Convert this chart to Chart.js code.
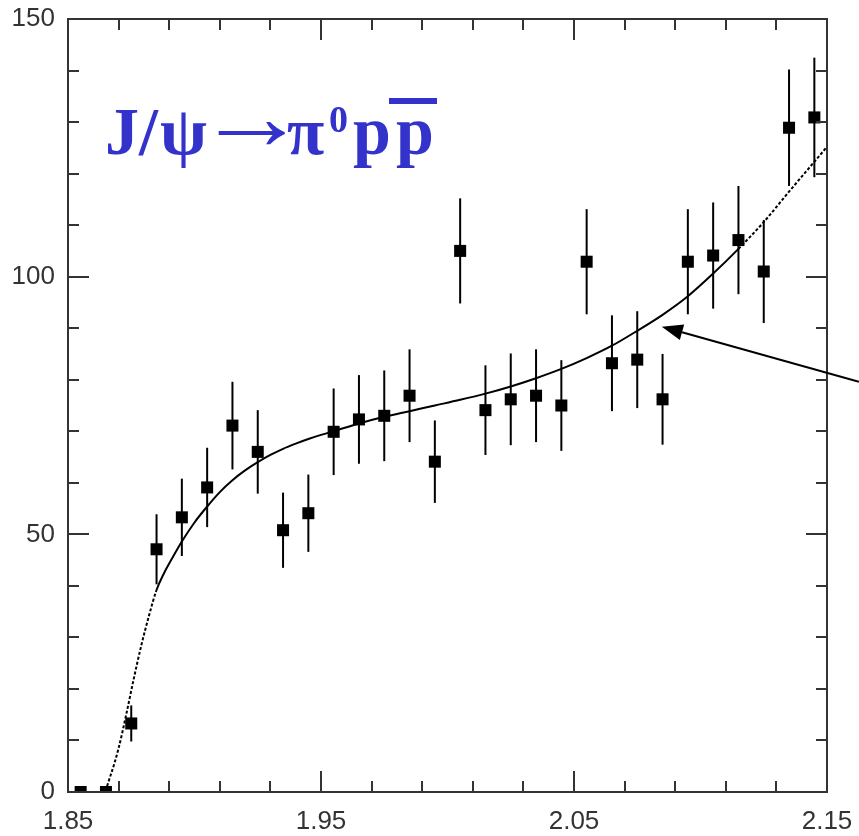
<!DOCTYPE html>
<html>
<head>
<meta charset="utf-8">
<script src="https://cdn.jsdelivr.net/npm/chart.js@4.4.1/dist/chart.umd.min.js"></script>
<style>
  html, body { margin: 0; padding: 0; background: #fff; }
  #wrap { width: 859px; height: 836px; }
</style>
</head>
<body>
<div id="wrap"><canvas id="massChart" width="859" height="836"></canvas></div>
<script>
// p pbar invariant mass bins (GeV) and event counts per bin
const massBins = [1.855, 1.865, 1.875, 1.885, 1.895, 1.905, 1.915, 1.925, 1.935, 1.945,
                  1.955, 1.965, 1.975, 1.985, 1.995, 2.005, 2.015, 2.025, 2.035, 2.045,
                  2.055, 2.065, 2.075, 2.085, 2.095, 2.105, 2.115, 2.125, 2.135, 2.145];
const eventCounts = [0, 0, 13.3, 47.1, 53.3, 59.1, 71.1, 66.0, 50.8, 54.1,
                     69.9, 72.3, 73.0, 76.9, 64.1, 105.0, 74.1, 76.2, 76.9, 75.0,
                     102.9, 83.2, 83.9, 76.2, 102.9, 104.1, 107.1, 101.0, 128.9, 130.9];
const countErrors = [0, 0, 3.5, 6.8, 7.5, 7.7, 8.5, 8.1, 7.3, 7.5,
                     8.4, 8.6, 8.8, 9.0, 8.0, 10.2, 8.7, 8.9, 9.0, 8.8,
                     10.2, 9.3, 9.4, 8.8, 10.2, 10.3, 10.5, 10.0, 11.3, 11.6];

// fitted curve, sampled along the mass axis
const fitMass = [1.855, 1.864, 1.867, 1.870, 1.873, 1.876, 1.879, 1.882, 1.885, 1.888,
                 1.891, 1.895, 1.900, 1.905, 1.910, 1.915, 1.920, 1.925, 1.930, 1.935,
                 1.940, 1.945, 1.950, 1.955, 1.965, 1.975, 1.985, 1.995, 2.005, 2.015,
                 2.025, 2.035, 2.045, 2.055, 2.065, 2.075, 2.085, 2.095, 2.105, 2.115,
                 2.125, 2.135, 2.145, 2.150];
const fitCounts = [0, 0, 3.5, 8.5, 15.0, 22.0, 28.5, 34.2, 39.2, 42.5,
                   45.2, 48.6, 52.3, 55.4, 58.2, 60.5, 62.4, 64.0, 65.4, 66.6,
                   67.6, 68.5, 69.3, 70.0, 71.5, 72.8, 73.9, 75.0, 76.1, 77.3,
                   78.7, 80.3, 82.1, 84.2, 86.6, 89.5, 92.6, 96.2, 100.6, 105.4,
                   110.6, 116.5, 122.3, 125.2];

const xMajorTicks = [1.85, 1.95, 2.05, 2.15];
const xMinorTicks = [1.87, 1.89, 1.91, 1.93, 1.97, 1.99, 2.01, 2.03, 2.07, 2.09, 2.11, 2.13];
const yMajorTicks = [0, 50, 100, 150];
const yMinorTicks = [10, 20, 30, 40, 60, 70, 80, 90, 110, 120, 130, 140];

// annotation arrow pointing at the fit (mass, counts)
const arrowTail = [2.1626, 79.6];
const arrowTip = [2.0847, 90.3];

const frameColor = '#333';
const titleColor = '#3333cc';

const pointData = massBins.map((m, i) => ({ x: m, y: eventCounts[i] }));
const fitData = fitMass.map((m, i) => ({ x: m, y: fitCounts[i] }));

// vertical error bars, drawn under the markers
const errorBars = {
    id: 'errorBars',
    beforeDatasetsDraw(chart) {
        const { ctx, scales: { x, y } } = chart;
        ctx.save();
        ctx.strokeStyle = '#000';
        ctx.lineWidth = 2;
        massBins.forEach((m, i) => {
            const err = countErrors[i];
            if (!err) return;
            const px = x.getPixelForValue(m);
            ctx.beginPath();
            ctx.moveTo(px, y.getPixelForValue(eventCounts[i] - err));
            ctx.lineTo(px, y.getPixelForValue(eventCounts[i] + err));
            ctx.stroke();
        });
        ctx.restore();
    }
};

// box frame with inward ticks on all four sides, plus the arrow
const frame = {
    id: 'frame',
    afterDraw(chart) {
        const { ctx, chartArea: a, scales: { x, y } } = chart;
        ctx.save();
        ctx.strokeStyle = frameColor;
        ctx.lineWidth = 2;
        ctx.strokeRect(a.left, a.top, a.right - a.left, a.bottom - a.top);
        ctx.beginPath();
        const xt = (v, len) => {
            const px = Math.round(x.getPixelForValue(v));
            ctx.moveTo(px, a.bottom); ctx.lineTo(px, a.bottom - len);
            ctx.moveTo(px, a.top); ctx.lineTo(px, a.top + len);
        };
        const yt = (v, len) => {
            const py = Math.round(y.getPixelForValue(v));
            ctx.moveTo(a.left, py); ctx.lineTo(a.left + len, py);
            ctx.moveTo(a.right, py); ctx.lineTo(a.right - len, py);
        };
        xMajorTicks.forEach(v => xt(v, 21));
        xMinorTicks.forEach(v => xt(v, 11));
        yMajorTicks.forEach(v => yt(v, 21));
        yMinorTicks.forEach(v => yt(v, 11));
        ctx.stroke();

        const tx = x.getPixelForValue(arrowTail[0]), ty = y.getPixelForValue(arrowTail[1]);
        const hx = x.getPixelForValue(arrowTip[0]), hy = y.getPixelForValue(arrowTip[1]);
        const ang = Math.atan2(hy - ty, hx - tx);
        const headLen = 21, headHalf = 8;
        const bx = hx - headLen * Math.cos(ang), by = hy - headLen * Math.sin(ang);
        ctx.strokeStyle = '#000';
        ctx.fillStyle = '#000';
        ctx.beginPath();
        ctx.moveTo(tx, ty);
        ctx.lineTo(bx, by);
        ctx.stroke();
        ctx.beginPath();
        ctx.moveTo(hx, hy);
        ctx.lineTo(bx + headHalf * Math.sin(ang), by - headHalf * Math.cos(ang));
        ctx.lineTo(bx - headHalf * Math.sin(ang), by + headHalf * Math.cos(ang));
        ctx.closePath();
        ctx.fill();
        ctx.restore();
    }
};

// J/psi -> pi0 p pbar label
const decayLabel = {
    id: 'decayLabel',
    afterDraw(chart) {
        const { ctx } = chart;
        const big = 'bold 68px "Liberation Serif", "DejaVu Serif", serif';
        const base = 154;
        ctx.save();
        ctx.fillStyle = titleColor;
        ctx.textBaseline = 'alphabetic';
        ctx.textAlign = 'left';
        ctx.font = big;
        ctx.fillText('J', 105, base);
        ctx.fillText('/', 139, base);
        ctx.fillText('ψ', 160, base);
        // arrow glyph stretched so its ink spans 217..286, centred on y=133
        const m = ctx.measureText('→');
        const inkL = -m.actualBoundingBoxLeft, inkR = m.actualBoundingBoxRight;
        const inkMid = (m.actualBoundingBoxAscent - m.actualBoundingBoxDescent) / 2;
        const sx = 69 / (inkR - inkL);
        ctx.save();
        ctx.translate(217 - inkL * sx, 133 + inkMid * 1.4);
        ctx.scale(sx, 1.4);
        ctx.fillText('→', 0, 0);
        ctx.restore();
        ctx.fillText('π', 287, base);
        ctx.font = 'bold 38px "Liberation Serif", "DejaVu Serif", serif';
        ctx.fillText('0', 329, 132);
        ctx.font = big;
        ctx.fillText('p', 353, base);
        ctx.fillText('p', 396, base);
        ctx.fillRect(389, 98, 48, 6);
        ctx.restore();
    }
};

const tickFont = { family: '"Liberation Sans", Arial, sans-serif', size: 26 };
const noPadding = s => { s.paddingTop = s.paddingBottom = s.paddingLeft = s.paddingRight = 0; };

new Chart(document.getElementById('massChart'), {
    type: 'scatter',
    data: {
        datasets: [
            {
                label: 'data',
                data: pointData,
                pointStyle: 'rect',
                pointRadius: 8.5,
                pointHoverRadius: 8.5,
                backgroundColor: '#000',
                borderWidth: 0,
                order: 0
            },
            {
                label: 'fit',
                type: 'line',
                data: fitData,
                borderColor: '#000',
                borderWidth: 2,
                pointRadius: 0,
                fill: false,
                cubicInterpolationMode: 'monotone',
                segment: {
                    borderDash: c => (c.p0.parsed.x < 1.884 || c.p0.parsed.x >= 2.115) ? [3, 2] : undefined
                },
                order: 1
            }
        ]
    },
    options: {
        responsive: false,
        animation: false,
        layout: { padding: { top: 19, right: 32, left: 0, bottom: 0 } },
        plugins: {
            legend: { display: false },
            tooltip: { enabled: false }
        },
        scales: {
            x: {
                type: 'linear',
                min: 1.85,
                max: 2.15,
                afterBuildTicks: s => { s.ticks = xMajorTicks.map(v => ({ value: v })); },
                afterFit: s => { s.height = 44; noPadding(s); },
                grid: { display: false, drawTicks: false },
                border: { display: false },
                ticks: {
                    font: tickFont,
                    color: frameColor,
                    padding: 14,
                    maxRotation: 0,
                    callback: v => v.toFixed(2)
                }
            },
            y: {
                min: 0,
                max: 150,
                afterBuildTicks: s => { s.ticks = yMajorTicks.map(v => ({ value: v })); },
                afterFit: s => { s.width = 68; noPadding(s); },
                grid: { display: false, drawTicks: false },
                border: { display: false },
                ticks: {
                    font: tickFont,
                    color: frameColor,
                    padding: 13
                }
            }
        }
    },
    plugins: [errorBars, frame, decayLabel]
});
</script>
</body>
</html>
